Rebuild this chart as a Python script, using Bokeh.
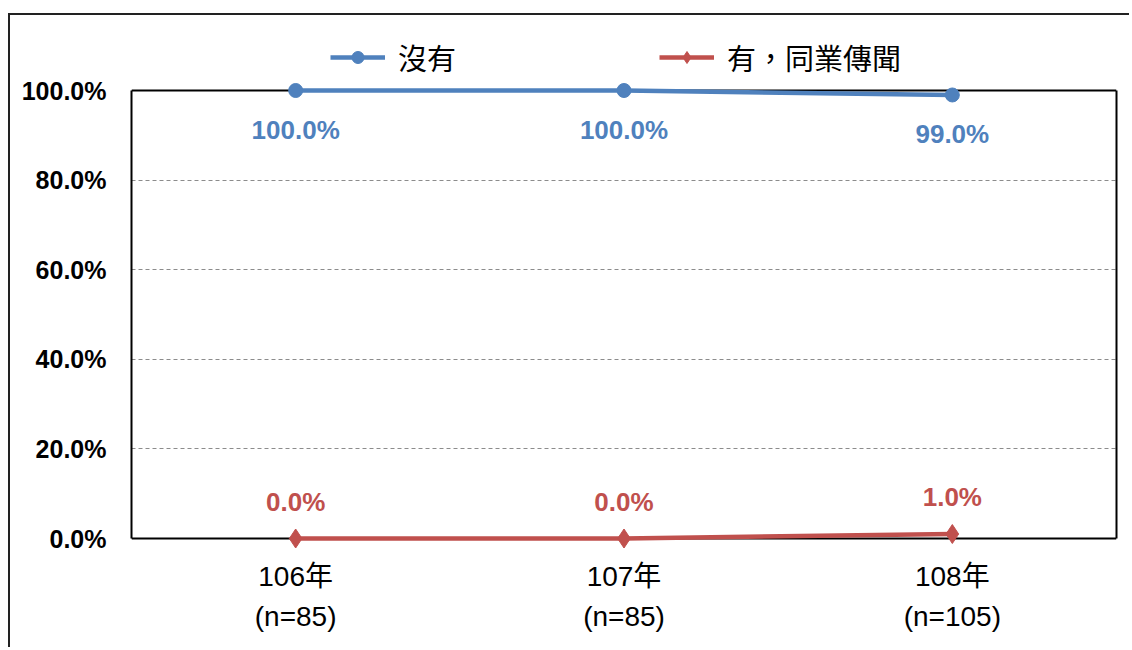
from bokeh.plotting import figure
from bokeh.models import (Range1d, FixedTicker, PrintfTickFormatter, Legend, LegendItem,
                          ColumnDataSource, LinearAxis, Span)
from bokeh.core.properties import value
from bokeh.embed import file_html
from bokeh.resources import INLINE

years = ["106年\n(n=85)", "107年\n(n=85)", "108年\n(n=105)"]
none_vals = [100.0, 100.0, 99.0]
heard_vals = [0.0, 0.0, 1.0]
none_labels = ["100.0%", "100.0%", "99.0%"]
heard_labels = ["0.0%", "0.0%", "1.0%"]
series_names = ["沒有", "有，同業傳聞"]
y_ticks = [0, 20, 40, 60, 80, 100]

BLUE = "#4F81BD"
RED = "#C0504D"
SANS = "'Liberation Sans', 'Noto Sans CJK TC', sans-serif"
CJK = "'Noto Sans CJK TC', sans-serif"

# plot area spans 0..100 (448 px); headroom above holds the legend, a little room below
PX = 448 / 100
Y_TOP = 100 + 70 / PX
Y_BOT = -10 / PX

p = figure(x_range=years, y_range=Range1d(Y_BOT, Y_TOP), width=1121, height=634,
           output_backend="svg", toolbar_location=None,
           min_border_left=121, min_border_right=15, min_border_top=5, min_border_bottom=101)
p.styles = {"margin-top": "13px", "margin-left": "8px",
            "border-left": "2px solid #222", "border-top": "2px solid #222"}

p.outline_line_color = None
p.background_fill_color = "white"
p.border_fill_color = "white"

p.xgrid.grid_line_color = None
p.ygrid.grid_line_color = "#8c8c8c"
p.ygrid.grid_line_dash = "4 3"
p.ygrid.grid_line_width = 1

p.yaxis.ticker = FixedTicker(ticks=y_ticks)
p.yaxis.bounds = (0, 100)
p.yaxis.formatter = PrintfTickFormatter(format="%.1f%%")
p.yaxis.major_tick_line_color = None
p.yaxis.minor_tick_line_color = None
p.yaxis.axis_line_color = "black"
p.yaxis.axis_line_width = 2
p.yaxis.major_label_text_font = "Liberation Sans"
p.yaxis.major_label_text_font_style = "bold"
p.yaxis.major_label_text_font_size = "25px"
p.yaxis.major_label_text_color = "black"
p.yaxis.major_label_standoff = 19

right_axis = LinearAxis(bounds=(0, 100), ticker=FixedTicker(ticks=[]),
                        axis_line_color="black", axis_line_width=2,
                        major_tick_line_color=None, minor_tick_line_color=None,
                        major_label_text_font_size="0px")
p.add_layout(right_axis, "right")

p.add_layout(Span(location=100, dimension="width", line_color="black", line_width=2, level="underlay"))
p.add_layout(Span(location=0, dimension="width", line_color="black", line_width=2, level="underlay"))

p.xaxis.major_tick_line_color = None
p.xaxis.minor_tick_line_color = None
p.xaxis.axis_line_color = None
p.xaxis.major_label_text_font = SANS
p.xaxis.major_label_text_font_size = "28px"
p.xaxis.major_label_text_color = "black"
p.xaxis.major_label_standoff = 6
p.xaxis.major_label_text_line_height = 1.3

src = ColumnDataSource(dict(x=years, none=none_vals, heard=heard_vals,
                            nl=none_labels, hl=heard_labels))

l1 = p.line("x", "none", source=src, line_color=BLUE, line_width=4.5)
m1 = p.scatter("x", "none", source=src, marker="circle", size=14, fill_color=BLUE, line_color=BLUE)
l2 = p.line("x", "heard", source=src, line_color=RED, line_width=4.5)
m2 = p.scatter("x", "heard", source=src, marker="diamond", size=19, fill_color=RED, line_color=RED)

p.text("x", "none", text="nl", source=src, text_align="center", text_baseline="middle",
       y_offset=39, text_color=BLUE, text_font=value(SANS), text_font_style="bold",
       text_font_size="26px")
p.text("x", "heard", text="hl", source=src, text_align="center", text_baseline="middle",
       y_offset=-37, text_color=RED, text_font=value(SANS), text_font_style="bold",
       text_font_size="26px")

legend = Legend(items=[LegendItem(label=series_names[0], renderers=[l1, m1]),
                       LegendItem(label=series_names[1], renderers=[l2, m2])],
                orientation="horizontal", location=(199, 470),
                glyph_width=55, glyph_height=30, label_standoff=13, spacing=203,
                padding=0, margin=0,
                label_text_font=CJK, label_text_font_size="29px", label_text_color="black",
                label_text_baseline="middle",
                border_line_color=None, background_fill_alpha=0)
p.add_layout(legend, "center")

open("out.html", "w").write(file_html(p, INLINE))
